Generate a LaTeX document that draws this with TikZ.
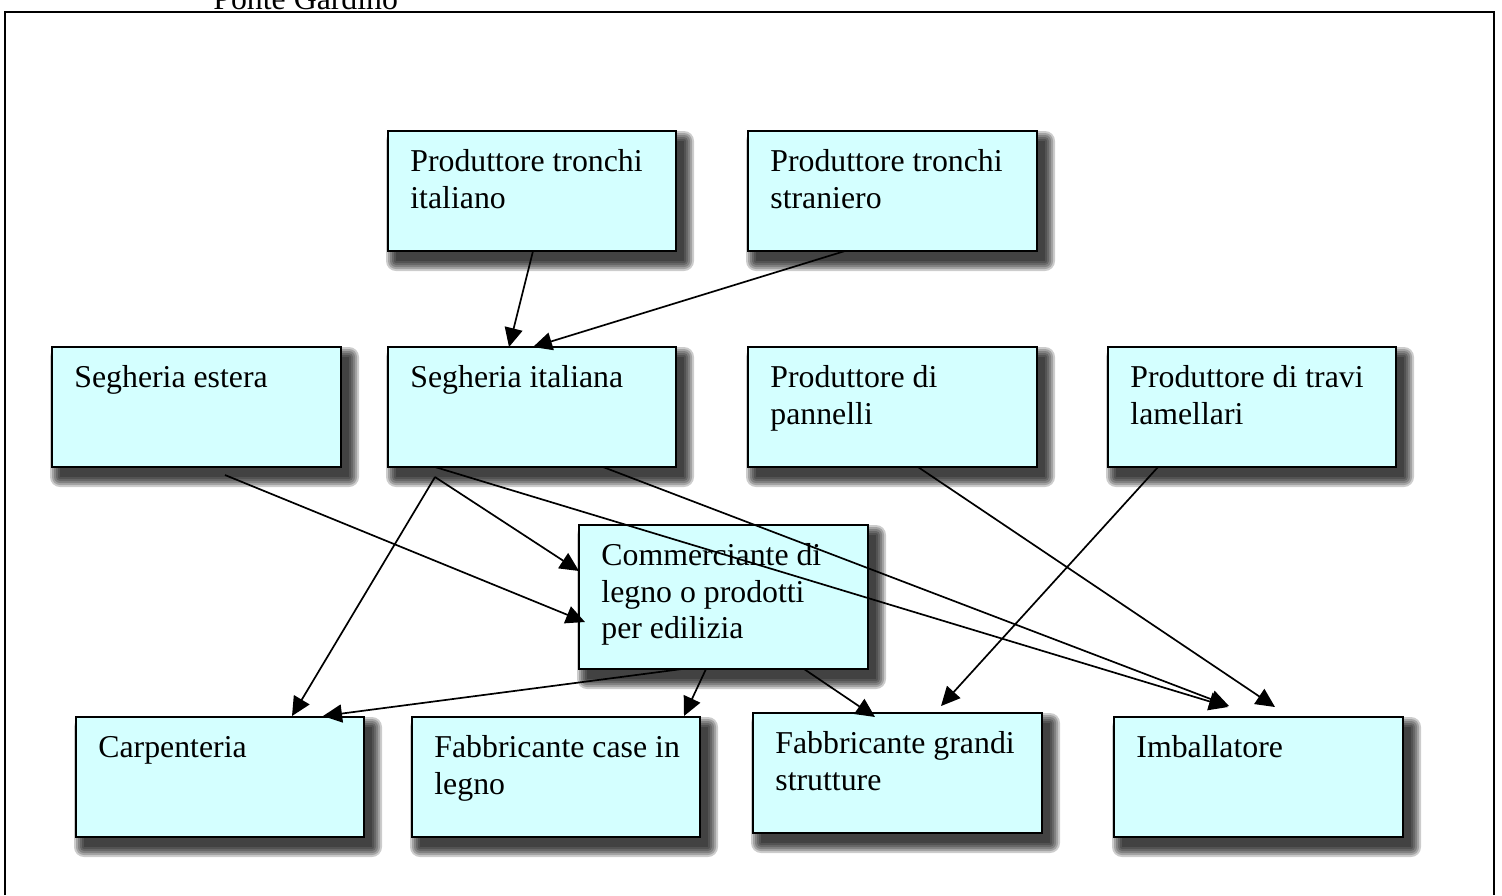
\documentclass[tikz,border=0pt]{standalone}
\usepackage{fontspec}
\setmainfont{Liberation Serif}
\usetikzlibrary{arrows.meta,calc}
\definecolor{boxfill}{RGB}{212,255,255}
\tikzset{
  box/.style={draw=black, line width=0.9pt, fill=boxfill, inner sep=0pt, outer sep=0pt},
  txt/.style={anchor=north west, inner sep=0pt, align=left, font=\fontsize{15.9pt}{18.25pt}\selectfont},
  arr/.style={draw=black, line width=0.85pt, -{Triangle[length=9.5pt,width=9pt]}},
  frame/.style={draw=black, line width=1pt},
  shd/.style={fill=black, opacity=0.2},
}
% #1 name, #2 left, #3 top, #4 right, #5 bottom, #6 text
\newcommand\mybox[6]{%
  \foreach \k in {0,2,4,6,8,10} {%
    \fill[shd, rounded corners=\k*0.5pt] (#2+8-\k,#3+10-\k) rectangle (#4+8+\k,#5+10+\k);
  }
  \node[box, minimum width={(#4-#2)*0.5pt}, minimum height={(#5-#3)*0.5pt}] (#1) at ({(#2+#4)/2},{(#3+#5)/2}) {};
  \node[txt] (#1t) at (#2+22,#3+16.5) {\rule{0pt}{12pt}#6};
}
\begin{document}
\begin{tikzpicture}[x=0.5pt,y=-0.5pt]
\useasboundingbox (0,0) rectangle (1502,895);
\draw[frame] (5,895) -- (5,12) -- (1494,12) -- (1494,895);
\node[anchor=base west, inner sep=0pt, font=\fontsize{15.9pt}{18.25pt}\selectfont] (title) at (213,9) {Ponte Gardino};

\mybox{pti}{388}{131}{676}{251}{Produttore tronchi\\italiano}
\mybox{pts}{748}{131}{1037}{251}{Produttore tronchi\\straniero}
\mybox{sest}{52}{347}{341}{467}{Segheria estera}
\mybox{sit}{388}{347}{676}{467}{Segheria italiana}
\mybox{pan}{748}{347}{1037}{467}{Produttore di\\pannelli}
\mybox{trav}{1108}{347}{1396}{467}{Produttore di travi\\lamellari}
\mybox{com}{579}{525}{868}{669}{Commerciante di\\legno o prodotti\\per edilizia}
\mybox{car}{76}{717}{364}{837}{Carpenteria}
\mybox{cas}{412}{717}{700}{837}{Fabbricante case in\\legno}
\mybox{gra}{753}{713}{1042}{833}{Fabbricante grandi\\strutture}
\mybox{imb}{1114}{717}{1403}{837}{Imballatore}

\coordinate (V) at ($(sit.south west)+(47,10)$);

\draw[arr] ($(pti.south west)+(145,0)$) -- ($(sit.north west)+(121,0)$);
\draw[arr] ($(pts.south west)+(97,0)$) -- ($(sit.north west)+(145,0)$);
\draw[arr] ($(sest.south west)+(173,8)$) -- ($(com.north west)+(6,97)$);
\draw[arr] (V) -- ($(com.north west)+(0,46)$);
\draw[arr] (V) -- ($(car.north west)+(216,-1)$);
\draw[arr] ($(sit.south west)+(47,0)$) -- ($(imb.north west)+(114,-10)$);
\draw[arr] ($(sit.south west)+(215,0)$) -- ($(imb.north west)+(115,-11)$);
\draw[arr] ($(pan.south west)+(170,0)$) -- ($(imb.north west)+(161,-10)$);
\draw[arr] ($(trav.south west)+(50,0)$) -- ($(gra.north west)+(188,-7)$);
\draw[arr] ($(com.south west)+(103,0)$) -- ($(car.north west)+(247,-1)$);
\draw[arr] ($(com.south west)+(127,0)$) -- ($(cas.north west)+(272,-1)$);
\draw[arr] ($(com.south west)+(225,0)$) -- ($(gra.north west)+(122,4)$);
\end{tikzpicture}
\end{document}
